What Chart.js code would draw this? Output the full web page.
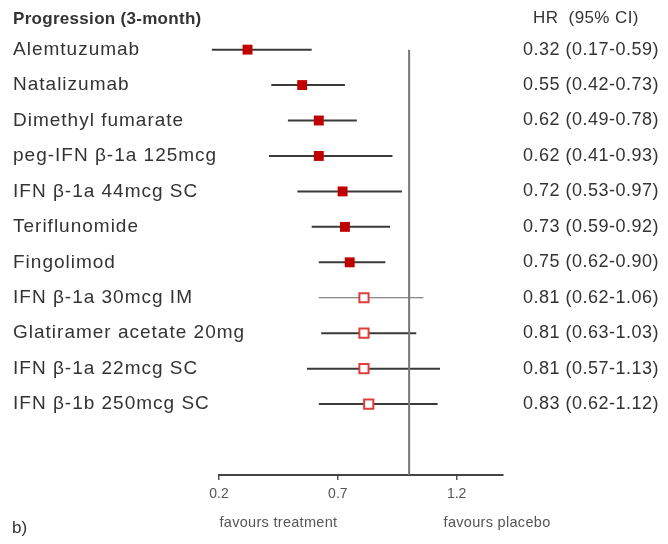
<!DOCTYPE html>
<html>
<head>
<meta charset="utf-8">
<script src="https://cdn.jsdelivr.net/npm/chart.js@4/dist/chart.umd.min.js"></script>
<style>
  body { margin: 0; background: #fff; }
  canvas { display: block; }
</style>
</head>
<body>
<canvas id="myChart" width="668" height="544"></canvas>
<script>
var drugs = [
    'Alemtuzumab', 'Natalizumab', 'Dimethyl fumarate', 'peg-IFN \u03b2-1a 125mcg',
    'IFN \u03b2-1a 44mcg SC', 'Teriflunomide', 'Fingolimod', 'IFN \u03b2-1a 30mcg IM',
    'Glatiramer acetate 20mg', 'IFN \u03b2-1a 22mcg SC', 'IFN \u03b2-1b 250mcg SC'
];
var hr     = [0.32, 0.55, 0.62, 0.62, 0.72, 0.73, 0.75, 0.81, 0.81, 0.81, 0.83];
var ciLow  = [0.17, 0.42, 0.49, 0.41, 0.53, 0.59, 0.62, 0.62, 0.63, 0.57, 0.62];
var ciHigh = [0.59, 0.73, 0.78, 0.93, 0.97, 0.92, 0.90, 1.06, 1.03, 1.13, 1.12];
var significant = [true, true, true, true, true, true, true, false, false, false, false];
var xTicks = [0.2, 0.7, 1.2];

var ctx = document.getElementById('myChart').getContext('2d');

// whiskers, one small line dataset per row
var datasets = [];
var filled = [];
var hollow = [];
for (var i = 0; i < drugs.length; i++) {
    var thin = drugs[i] == 'IFN \u03b2-1a 30mcg IM';
    datasets.push({
        type: 'line',
        data: [{x: ciLow[i], y: i}, {x: ciHigh[i], y: i}],
        borderColor: thin ? '#666' : '#3a3a3a',
        borderWidth: thin ? 1 : 2,
        pointRadius: 0,
        clip: false,
        order: 2
    });
    if (significant[i]) {
        filled.push({x: hr[i], y: i});
    } else {
        hollow.push({x: hr[i], y: i});
    }
}
// line of no effect
datasets.push({
    type: 'line',
    data: [{x: 1, y: 0}, {x: 1, y: 12}],
    borderColor: '#777',
    borderWidth: 2,
    pointRadius: 0,
    clip: false,
    order: 1
});
datasets.push({
    data: filled,
    pointStyle: 'rect',
    pointRadius: 7,
    backgroundColor: '#c00000',
    borderColor: '#c00000',
    borderWidth: 0,
    clip: false,
    order: 0
});
datasets.push({
    data: hollow,
    pointStyle: 'rect',
    pointRadius: 6.5,
    backgroundColor: '#fff',
    borderColor: '#e03c3c',
    borderWidth: 2,
    clip: false,
    order: 0
});

var textPlugin = {
    id: 'forestText',
    afterDraw: function(chart) {
        var c = chart.ctx;
        var ys = chart.scales.y;
        var xs = chart.scales.x;
        c.save();
        c.textBaseline = 'middle';
        c.fillStyle = '#333';
        c.textAlign = 'left';

        c.font = 'bold 17px "Liberation Sans"';
        c.letterSpacing = '0.3px';
        c.fillText('Progression (3-month)', 13, ys.getPixelForValue(-0.85));

        c.font = '19px "Liberation Sans"';
        c.letterSpacing = '1px';
        for (var i = 0; i < drugs.length; i++) {
            c.fillText(drugs[i], 13, ys.getPixelForValue(i));
        }

        c.font = '17px "Liberation Sans"';
        c.letterSpacing = '0.4px';
        c.fillText('HR  (95% CI)', 533, ys.getPixelForValue(-0.88));
        c.font = '18px "Liberation Sans"';
        c.letterSpacing = '0.5px';
        for (var i = 0; i < drugs.length; i++) {
            var s = hr[i].toFixed(2) + ' (' + ciLow[i].toFixed(2) + '-' + ciHigh[i].toFixed(2) + ')';
            c.fillText(s, 523, ys.getPixelForValue(i));
        }

        c.fillStyle = '#555';
        c.font = '14.5px "Liberation Sans"';
        c.letterSpacing = '0.3px';
        c.textAlign = 'center';
        c.fillText('favours treatment', xs.getPixelForValue(0.45), 523);
        c.fillText('favours placebo', xs.getPixelForValue(1.37), 523);

        c.fillStyle = '#333';
        c.textAlign = 'left';
        c.font = '17px "Liberation Sans"';
        c.letterSpacing = '0px';
        c.fillText('b)', 12, 528);
        c.restore();
    }
};

var chart = new Chart(ctx, {
    type: 'scatter',
    data: { datasets: datasets },
    options: {
        responsive: false,
        animation: false,
        layout: { autoPadding: false, padding: { left: 219, right: 165, top: 0, bottom: 0 } },
        plugins: { legend: { display: false }, tooltip: { enabled: false } },
        scales: {
            x: {
                type: 'linear',
                min: 0.2,
                max: 1.395,
                afterBuildTicks: function(scale) {
                    scale.ticks = xTicks.map(function(v) { return {value: v}; });
                },
                afterFit: function(scale) { scale.height = 69; },
                grid: { drawOnChartArea: false, drawTicks: true, tickLength: 5, color: '#555', lineWidth: 1.5 },
                border: { display: true, color: '#444', width: 2 },
                ticks: {
                    color: '#555',
                    font: { family: 'Liberation Sans', size: 14 },
                    padding: 6,
                    maxRotation: 0,
                    callback: function(v) { return v.toFixed(1); }
                }
            },
            y: {
                type: 'linear',
                min: -1.4,
                max: 12,
                reverse: true,
                display: false
            }
        }
    },
    plugins: [textPlugin]
});
</script>
</body>
</html>
